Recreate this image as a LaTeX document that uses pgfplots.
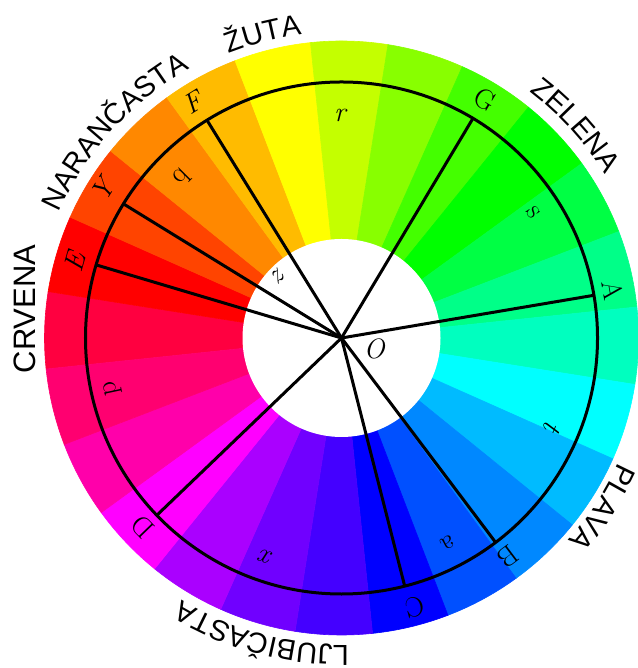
\documentclass[border=0pt]{standalone}
\usepackage{pgfplots}
\pgfplotsset{compat=1.18}
\usepackage{fontspec}
\setsansfont{Liberation Sans}
\usetikzlibrary{decorations.text}

% sector colours (start angle -> colour)
\definecolor{s171}{HTML}{FF0040}
\definecolor{s156}{HTML}{FF0000}
\definecolor{s141}{HTML}{FF4400}
\definecolor{s126}{HTML}{FF8800}
\definecolor{s111}{HTML}{FFBB00}
\definecolor{s96}{HTML}{FFFF00}
\definecolor{s81}{HTML}{C4FF00}
\definecolor{s66}{HTML}{88FF00}
\definecolor{s51}{HTML}{44FF00}
\definecolor{s36}{HTML}{00FF00}
\definecolor{s21}{HTML}{00FF44}
\definecolor{s6}{HTML}{00FF88}
\definecolor{sm9}{HTML}{00FFBF}
\definecolor{sm24}{HTML}{00FFFF}
\definecolor{sm39}{HTML}{00BBFF}
\definecolor{sm54}{HTML}{0088FF}
\definecolor{sm69}{HTML}{0050FF}
\definecolor{sm84}{HTML}{0000FF}
\definecolor{sm99}{HTML}{4400FF}
\definecolor{sm114}{HTML}{7000FF}
\definecolor{sm129}{HTML}{AA00FF}
\definecolor{sm144}{HTML}{FF00FF}
\definecolor{sm159}{HTML}{FF00AA}
\definecolor{sm174}{HTML}{FF0070}

\newcommand\sect[2]{\fill[#2,draw=#2,line width=0.6bp] (axis cs:341.5,330) -- ++(#1:297bp) arc[start angle=#1, end angle=#1+15, radius=297bp] -- cycle;}
\newcommand\lf{\fontsize{28bp}{30bp}\selectfont}
\newcommand\cf{\sffamily\fontsize{29bp}{30bp}\selectfont}

\begin{document}
\begin{tikzpicture}
\begin{axis}[x=1bp,y=1bp,xmin=0,xmax=638,ymin=0,ymax=668,hide axis,clip=false]
\coordinate (BL) at (axis cs:0,0);
\coordinate (TR) at (axis cs:638,668);
% colour wheel
\sect{171}{s171}
\sect{156}{s156}
\sect{141}{s141}
\sect{126}{s126}
\sect{111}{s111}
\sect{96}{s96}
\sect{81}{s81}
\sect{66}{s66}
\sect{51}{s51}
\sect{36}{s36}
\sect{21}{s21}
\sect{6}{s6}
\sect{-9}{sm9}
\sect{-24}{sm24}
\sect{-39}{sm39}
\sect{-54}{sm54}
\sect{-69}{sm69}
\sect{-84}{sm84}
\sect{-99}{sm99}
\sect{-114}{sm114}
\sect{-129}{sm129}
\sect{-144}{sm144}
\sect{-159}{sm159}
\sect{-174}{sm174}
\fill[white] (axis cs:341.5,330) circle[radius=99bp];
% circle
\draw[black,line width=3bp] (axis cs:341.5,330) circle[radius=256bp];
% rays
\addplot[black,line width=3bp] coordinates {(341.5,330) (207.0,547.8)};
\addplot[black,line width=3bp] coordinates {(341.5,330) (123.5,464.1)};
\addplot[black,line width=3bp] coordinates {(341.5,330) (96.2,403.1)};
\addplot[black,line width=3bp] coordinates {(341.5,330) (156.8,152.7)};
\addplot[black,line width=3bp] coordinates {(341.5,330) (404.7,81.9)};
\addplot[black,line width=3bp] coordinates {(341.5,330) (495.6,125.6)};
\addplot[black,line width=3bp] coordinates {(341.5,330) (593.9,372.7)};
\addplot[black,line width=3bp] coordinates {(341.5,330) (473.0,549.7)};
% point labels
\node[rotate=32,inner sep=0] at (axis cs:193,565) {\lf\itshape F};
\node[rotate=-31,inner sep=0] at (axis cs:485,568) {\lf G};
\node[rotate=-80,inner sep=0] at (axis cs:613,378) {\lf A};
\node[rotate=-143,inner sep=0] at (axis cs:508,111) {\lf B};
\node[rotate=-165,inner sep=0] at (axis cs:415,61) {\lf C};
\node[rotate=134,inner sep=0] at (axis cs:143,141) {\lf D};
\node[rotate=74,inner sep=0] at (axis cs:75,406) {\lf\itshape E};
\node[rotate=58,inner sep=0] at (axis cs:103,478) {\lf\itshape Y};
\node[rotate=0,inner sep=0] at (axis cs:340,553) {\lf\itshape r};
\node[rotate=45,inner sep=0] at (axis cs:182,491) {\lf q};
\node[rotate=102,inner sep=0] at (axis cs:113,280) {\lf p};
\node[rotate=-57,inner sep=0] at (axis cs:533,456) {\lf s};
\node[rotate=-113,inner sep=0] at (axis cs:553,241) {\lf\itshape t};
\node[rotate=-152,inner sep=0] at (axis cs:448,125) {\lf a};
\node[rotate=161,inner sep=0] at (axis cs:267,111) {\lf\itshape x};
\node[rotate=46,inner sep=0] at (axis cs:277,391) {\lf\itshape z};
\node[inner sep=0] at (axis cs:374,319) {\lf\itshape O};
% colour names
\node[rotate=90,inner sep=0] at (axis cs:25,359) {\sffamily\fontsize{31bp}{32bp}\selectfont CRVENA};
\path[decorate,decoration={text along path,text={|\cf|NARANČASTA},text align=center}]
  (axis cs:35.0,369.3) arc[start angle=172.7,end angle=102.7,radius=309bp];
\path[decorate,decoration={text along path,text={|\cf|ŽUTA},text align=center}]
  (axis cs:127.0,548.3) arc[start angle=134.5,end angle=74.5,radius=306bp];
\path[decorate,decoration={text along path,text={|\cf|ZELENA},text align=center}]
  (axis cs:436.3,625.2) arc[start angle=72.2,end angle=12.2,radius=310bp];
\path[decorate,decoration={text along path,text={|\cf|PLAVA},text align=center}]
  (axis cs:645.1,314.1) arc[start angle=-3,end angle=-63,radius=304bp];
\path[decorate,decoration={text along path,text={|\cf|LJUBIČASTA},text align=center}]
  (axis cs:446.5,41.5) arc[start angle=290,end angle=220,radius=307bp];
\end{axis}
\pgfresetboundingbox
\path[use as bounding box] (BL) rectangle (TR);
\end{tikzpicture}
\end{document}
